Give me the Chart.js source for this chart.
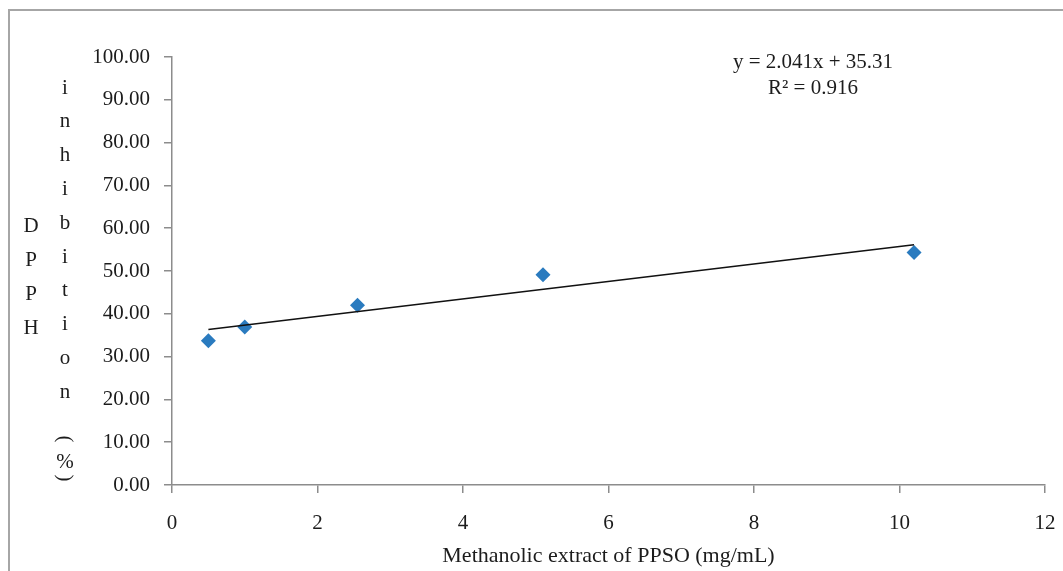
<!DOCTYPE html>
<html>
<head>
<meta charset="utf-8">
<script src="https://cdn.jsdelivr.net/npm/chart.js@4"></script>
<style>
  html, body { margin: 0; padding: 0; background: #fff; }
  #wrap { position: relative; width: 1063px; height: 571px; }
</style>
</head>
<body>
<div id="wrap"><canvas id="dpphChart"></canvas></div>
<script>
// measured points (mg/mL vs % inhibition)
const concentration = [0.5, 1.0, 2.55, 5.1, 10.2];
const inhibition = [33.7, 36.9, 42.0, 49.1, 54.3];
// linear trendline ends, as drawn
const trendX = [0.5, 10.2];
const trendY = [36.33, 56.13];
const xTicks = [0, 2, 4, 6, 8, 10, 12];
const yTicks = [0, 10, 20, 30, 40, 50, 60, 70, 80, 90, 100];
const equationLines = ['y = 2.041x + 35.31', 'R\u00B2 = 0.916'];

const serif = "'Liberation Serif', 'DejaVu Serif', serif";
const textColor = '#1c1c1c';
const axisColor = '#8c8c8c';

// frame around the whole figure + stacked y title + equation
const decorations = {
    id: 'decorations',
    beforeDraw(chart) {
        const ctx = chart.ctx;
        ctx.save();
        ctx.strokeStyle = '#a6a6a6';
        ctx.lineWidth = 2;
        ctx.strokeRect(9, 10, 1100, 600);
        ctx.restore();
    },
    afterDraw(chart) {
        const ctx = chart.ctx;
        const area = chart.chartArea;
        ctx.save();
        ctx.fillStyle = textColor;
        ctx.font = '21px ' + serif;
        ctx.textAlign = 'center';
        ctx.textBaseline = 'middle';

        // y axis title, stacked letters in two columns
        const left = ['D', 'P', 'P', 'H'];
        left.forEach((c, i) => ctx.fillText(c, 31, 226 + i * 34));
        const right = ['i', 'n', 'h', 'i', 'b', 'i', 't', 'i', 'o', 'n'];
        right.forEach((c, i) => ctx.fillText(c, 65, 88 + i * 33.8));
        ctx.fillText('%', 65, 462);
        [['(', 439], [')', 478]].forEach(([c, y]) => {
            ctx.save();
            ctx.translate(65, y);
            ctx.rotate(Math.PI / 2);
            ctx.fillText(c, 0, 0);
            ctx.restore();
        });

        // trendline equation
        const ex = area.right - 232;
        equationLines.forEach((t, i) => ctx.fillText(t, ex, area.top + 5 + i * 26));
        ctx.restore();
    }
};

new Chart(document.getElementById('dpphChart'), {
    type: 'scatter',
    data: {
        datasets: [{
            label: 'Linear',
            type: 'line',
            data: trendX.map((x, i) => ({ x: x, y: trendY[i] })),
            borderColor: '#111',
            borderWidth: 1.6,
            pointRadius: 0,
            fill: false,
            tension: 0
        }, {
            label: 'DPPH inhibition',
            data: concentration.map((x, i) => ({ x: x, y: inhibition[i] })),
            pointStyle: 'rectRot',
            pointRadius: 7.5,
            pointBackgroundColor: '#2a7bbf',
            pointBorderWidth: 0,
            pointBorderColor: '#2a7bbf'
        }]
    },
    options: {
        responsive: true,
        maintainAspectRatio: false,
        animation: false,
        layout: { padding: { top: 57, right: 18, left: 0, bottom: 0 } },
        plugins: {
            legend: { display: false },
            tooltip: { enabled: false }
        },
        scales: {
            x: {
                type: 'linear',
                min: 0,
                max: 12,
                afterBuildTicks: s => { s.ticks = xTicks.map(v => ({ value: v })); },
                afterFit: s => { s.height = 86; s.paddingLeft = 0; s.paddingRight = 0; },
                grid: { drawOnChartArea: false, drawTicks: true, tickLength: 8, color: axisColor, lineWidth: 1.5 },
                border: { display: true, color: axisColor, width: 1.5 },
                ticks: { color: textColor, font: { family: serif, size: 21 }, padding: 18, maxRotation: 0 },
                title: {
                    display: true,
                    text: 'Methanolic extract of PPSO (mg/mL)',
                    color: textColor,
                    font: { family: serif, size: 22 },
                    padding: { top: 0, bottom: 2 }
                }
            },
            y: {
                type: 'linear',
                min: 0,
                max: 100,
                afterBuildTicks: s => { s.ticks = yTicks.map(v => ({ value: v })); },
                afterFit: s => { s.width = 172; },
                grid: { drawOnChartArea: false, drawTicks: true, tickLength: 8, color: axisColor, lineWidth: 1.5 },
                border: { display: true, color: axisColor, width: 1.5 },
                ticks: {
                    color: textColor,
                    font: { family: serif, size: 21 },
                    padding: 14,
                    callback: v => Number(v).toFixed(2)
                }
            }
        }
    },
    plugins: [decorations]
});
</script>
</body>
</html>
